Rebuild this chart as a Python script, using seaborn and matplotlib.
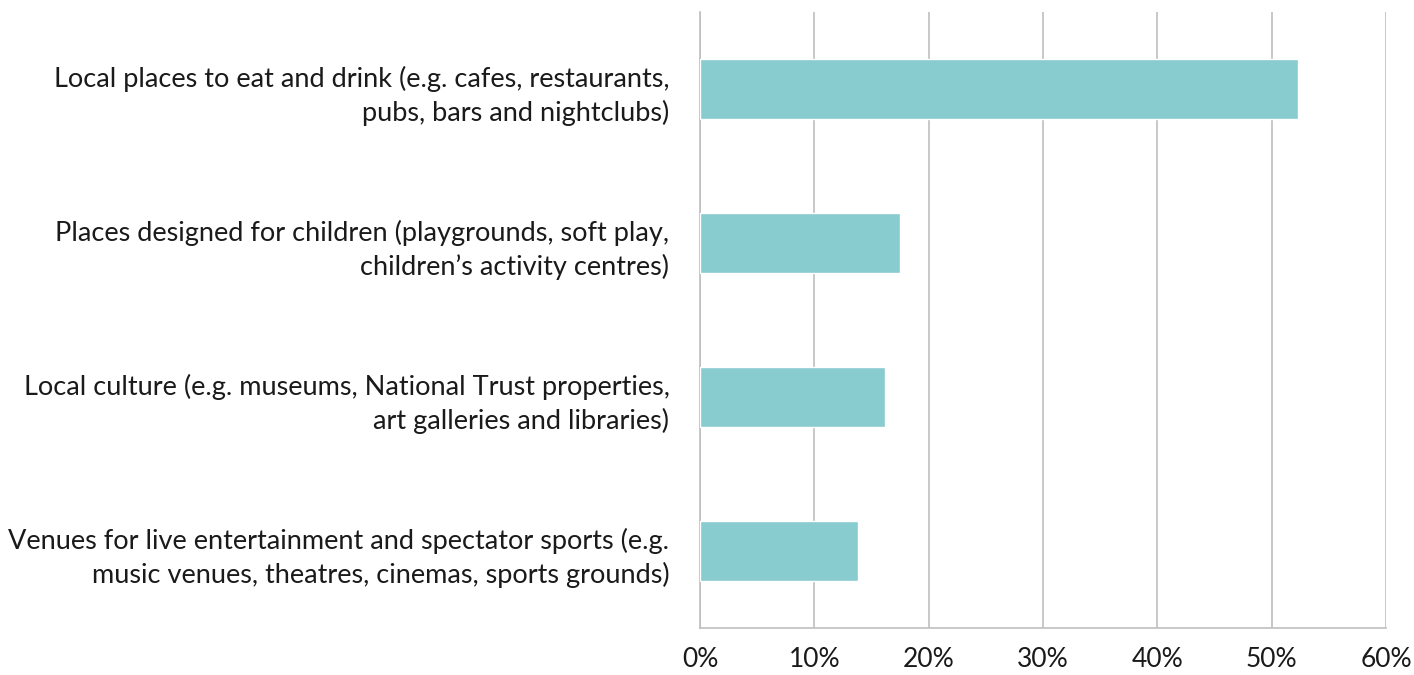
import matplotlib
matplotlib.use("Agg")
import matplotlib.pyplot as plt
import seaborn as sns
import pandas as pd
from matplotlib.ticker import PercentFormatter

categories = [
    "Local places to eat and drink (e.g. cafes, restaurants,\npubs, bars and nightclubs)",
    "Places designed for children (playgrounds, soft play,\nchildren\u2019s activity centres)",
    "Local culture (e.g. museums, National Trust properties,\nart galleries and libraries)",
    "Venues for live entertainment and spectator sports (e.g.\nmusic venues, theatres, cinemas, sports grounds)",
]
values = [52.3, 17.5, 16.2, 13.8]

df = pd.DataFrame({"category": categories, "value": values})

sns.set_theme(style="white")
plt.rcParams['font.family'] = ['Lato', 'DejaVu Sans']

fig = plt.figure(figsize=(14.14, 6.75), dpi=100)
ax = fig.add_axes([700/1414, 1-628/675, 686/1414, 616/675])

sns.barplot(data=df, x="value", y="category", color="#88CCCF", width=0.39,
            saturation=1, ax=ax, zorder=3)

ax.set_xlim(0, 60)
ax.set_ylim(3.5, -0.5)
ax.set_xticks(range(0, 61, 10))
ax.xaxis.set_major_formatter(PercentFormatter(decimals=0))
ax.grid(axis="x", color="#BFBFBF", linewidth=1.2, zorder=0)
ax.set_xlabel("")
ax.set_ylabel("")
for s in ["top", "right"]:
    ax.spines[s].set_visible(False)
for s in ["left", "bottom"]:
    ax.spines[s].set_color("#BFBFBF")
    ax.spines[s].set_linewidth(1.2)
ax.tick_params(axis="y", length=0, labelsize=19.5, colors="#1a1a1a", pad=22)
ax.tick_params(axis="x", length=0, labelsize=19, colors="#1a1a1a", pad=14)
for lbl in ax.get_yticklabels():
    lbl.set_horizontalalignment("right")
    lbl.set_multialignment("right")
    lbl.set_verticalalignment("center_baseline")
    lbl.set_linespacing(1.4)

fig.savefig("out.png", dpi=100, facecolor="white")
